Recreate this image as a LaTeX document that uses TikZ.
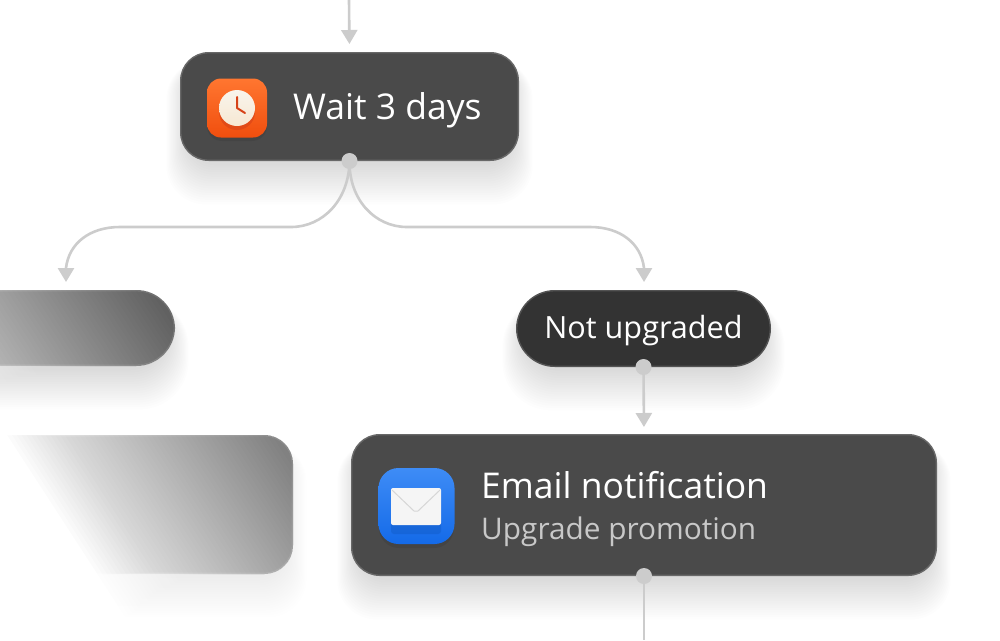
\documentclass[tikz,border=0pt]{standalone}
\usepackage{fontspec}
\setmainfont{Open Sans}
\usetikzlibrary{arrows.meta}
\usetikzlibrary{calc}
\definecolor{flowline}{RGB}{204,204,204}
\definecolor{boxfill}{RGB}{74,74,74}
\definecolor{pillfill}{RGB}{51,51,51}
\definecolor{boxedge}{RGB}{104,104,104}
\definecolor{subtext}{RGB}{200,200,200}
\definecolor{clocktop}{RGB}{255,118,48}
\definecolor{clockbottom}{RGB}{240,78,14}
\definecolor{clockhand}{RGB}{214,66,24}
\definecolor{clockface}{RGB}{246,240,228}
\definecolor{mailtop}{RGB}{62,140,246}
\definecolor{mailbottom}{RGB}{20,106,232}
\newcommand{\softshadow}[6]{
	\foreach \s in {1,...,18}{
		\pgfmathsetmacro\rad{#5+\s*0.6}
		\fill[black,opacity=#6,rounded corners=\rad pt]
			(#1-#3/2+8-\s*1.2,#2-#4/2+8) rectangle (#1+#3/2-8+\s*1.2,#2+#4/2+2+\s*2.3);
	}
}
\newcommand{\fadeover}[2]{
	\begin{scope}[rotate=-33]
		\foreach \k in {1,...,90}{
			\pgfmathsetmacro\cut{#1-((#1-(#2))/90)*(\k-1)}
			\pgfmathsetmacro\alp{1/(91-\k)}
			\fill[white,opacity=\alp] (\cut,-2000) rectangle (-2000,2000);
		}
	\end{scope}
}
\tikzset{
	card/.style={draw=boxedge,line width=1.4pt,fill=boxfill,rounded corners=28pt,inner sep=0pt},
	pill/.style={draw=boxedge!80!black,line width=1.4pt,fill=pillfill,rounded corners=38pt,inner sep=0pt},
	flowbase/.style={flowline,line width=2.6pt},
	flow/.style={flowbase,-{Triangle[width=16pt,length=14pt]}},
	dot/.style={circle,fill=flowline,inner sep=0pt,minimum size=16pt},
	title/.style={font=\fontsize{35.5}{40}\selectfont,text=white,anchor=base west,inner sep=0pt},
	subtitle/.style={font=\fontsize{29.8}{34}\selectfont,text=subtext,anchor=base west,inner sep=0pt},
}
\begin{document}
\begin{tikzpicture}[x=1pt,y=1pt,yscale=-1]
	\useasboundingbox (0,0) rectangle (1000,640);
	\fill[white] (0,0) rectangle (1000,640);
	\softshadow{349.5}{106.5}{339}{109}{28}{0.007}
	\softshadow{66}{328}{218}{76}{38}{0.006}
	\softshadow{643.5}{328.5}{255}{77}{38}{0.007}
	\softshadow{0}{504.5}{586}{139}{28}{0.004}
	\softshadow{644}{505}{586}{142}{28}{0.007}
	\coordinate (topin) at (349,0);
	\coordinate (bottomout) at (644,640);
	\coordinate (leftin) at (66,282);
	\coordinate (rightin) at (644,282);
	\node[card,name=waitbox,minimum width=337.6pt,minimum height=107.6pt] at (349.5,106.5) {};
	\node[pill,name=fadedpill,minimum width=216.6pt,minimum height=74.6pt] at (66,328) {};
	\node[pill,name=upgraded,minimum width=253.6pt,minimum height=75.6pt] at (643.5,328.5) {};
	\node[card,name=fadedcard,minimum width=584.6pt,minimum height=137.6pt] at (0,504.5) {};
	\node[card,name=emailbox,minimum width=584.6pt,minimum height=140.6pt] at (644,505) {};
	\draw[flow,shorten >=8pt] (topin) -- (waitbox.north);
	\draw[flow] (waitbox.south) .. controls (349,200) and (323,227) .. (291,227) -- (120,227) .. controls (90,227) and (69,243) .. (66,268) -- (leftin);
	\draw[flow] (waitbox.south) .. controls (349,200) and (375,227) .. (407,227) -- (590,227) .. controls (620,227) and (641,243) .. (644,268) -- (rightin);
	\draw[flow,shorten >=7pt] (upgraded.south) -- (emailbox.north);
	\draw[flowbase] (emailbox.south) -- (bottomout);
	\node[dot,name=waitdot] at (waitbox.south) {};
	\node[dot,name=upgradeddot] at (upgraded.south) {};
	\node[dot,name=emaildot] at (emailbox.south) {};
	\begin{scope}
		\clip (0,200) rectangle (330,425);
		\fadeover{63}{-310}
	\end{scope}
	\begin{scope}
		\clip (0,425) rectangle (335,640);
		\fadeover{128}{-235}
	\end{scope}
	\fill[black,opacity=0.07,rounded corners=15pt] (207,82) rectangle (267,141);
	\node[name=clockicon,rounded corners=14pt,top color=clocktop,bottom color=clockbottom,minimum width=60pt,minimum height=59pt,inner sep=0pt] at (237,108) {};
	\fill[clockhand,opacity=0.6] (237,112) circle (18);
	\shade[top color=clockface!70!white,bottom color=clockface!92!orange] (237,108) circle (18);
	\draw[clockhand,line width=2pt,line cap=round,line join=round] (237,97) -- (237,108) -- (245,113);
	\node[title,name=waitlabel] at (293,119) {Wait 3 days};
	\node[font=\fontsize{30.6}{34}\selectfont,text=white,anchor=base,inner sep=0pt,name=upgradedlabel] at (643.5,338) {Not upgraded};
	\fill[black,opacity=0.08,rounded corners=20pt] (379,472) rectangle (454,548);
	\node[name=mailicon,rounded corners=20pt,top color=mailtop,bottom color=mailbottom,minimum width=76pt,minimum height=76pt,inner sep=0pt] at (416.5,506) {};
	\fill[mailbottom!85!black,opacity=0.45,rounded corners=3pt] (391,492) rectangle (441,534);
	\fill[black!4,rounded corners=2pt] (391,488) rectangle (441,525);
	\draw[black!16,line width=1pt] (392,490) -- (414,511) -- (418,511) -- (440,490);
	\node[title,name=emaillabel] at (481,498) {Email notification};
	\node[subtitle,name=promolabel] at (481,539) {Upgrade promotion};
\end{tikzpicture}
\end{document}
